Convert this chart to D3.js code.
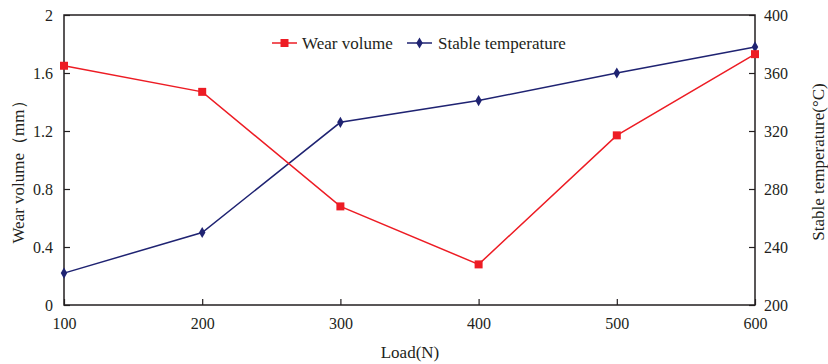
<!DOCTYPE html>
<html>
<head>
<meta charset="utf-8">
<script src="https://cdn.jsdelivr.net/npm/d3@7"></script>
<style>
  body { margin: 0; background: #fff; }
  svg { display: block; }
  text { font-family: "Liberation Serif", "Times New Roman", serif; fill: #231f20; }
</style>
</head>
<body>
<svg id="chart" width="828" height="364"></svg>
<script>
// Load (N) on the x axis
const loads = [100, 200, 300, 400, 500, 600];
// Wear volume (mm) — left axis
const wearVolume = [1.65, 1.47, 0.68, 0.28, 1.17, 1.73];
// Stable temperature (°C) — right axis
const stableTemp = [222, 250, 326, 341, 360, 378];

const xTicks = [100, 200, 300, 400, 500, 600];
const leftTicks = [0, 0.4, 0.8, 1.2, 1.6, 2];
const rightTicks = [200, 240, 280, 320, 360, 400];

const svg = d3.select("#chart");
const m = { left: 64, right: 755, top: 15, bottom: 305 };

const x = d3.scaleLinear().domain([100, 600]).range([m.left, m.right]);
const yL = d3.scaleLinear().domain([0, 2]).range([m.bottom, m.top]);
const yR = d3.scaleLinear().domain([200, 400]).range([m.bottom, m.top]);

const axisColor = "#231f20";
const red = "#ed1c24";
const navy = "#1f2372";

// frame
svg.append("rect")
  .attr("x", m.left).attr("y", m.top)
  .attr("width", m.right - m.left).attr("height", m.bottom - m.top)
  .attr("fill", "none").attr("stroke", axisColor).attr("stroke-width", 1.5);

function styleAxis(g) {
  g.select(".domain").remove();
  g.selectAll(".tick line").attr("stroke", axisColor).attr("stroke-width", 1.2);
  g.selectAll(".tick text")
    .style("font-family", "'Liberation Serif', serif")
    .style("font-size", "16px").attr("fill", axisColor);
}

svg.append("g")
  .attr("transform", `translate(0,${m.bottom})`)
  .call(d3.axisBottom(x).tickValues(xTicks).tickSize(-6).tickPadding(13).tickFormat(d3.format("d")))
  .call(styleAxis);

svg.append("g")
  .attr("transform", `translate(${m.left},0)`)
  .call(d3.axisLeft(yL).tickValues(leftTicks).tickSize(-6).tickPadding(11).tickFormat(d => d === 0 || d === 2 ? d3.format("d")(d) : d3.format(".1f")(d)))
  .call(styleAxis);

svg.append("g")
  .attr("transform", `translate(${m.right},0)`)
  .call(d3.axisRight(yR).tickValues(rightTicks).tickSize(-6).tickPadding(9).tickFormat(d3.format("d")))
  .call(styleAxis);

// axis titles
svg.append("text")
  .attr("x", 410).attr("y", 358)
  .attr("text-anchor", "middle").style("font-size", "17px")
  .text("Load(N)");

svg.append("text")
  .attr("transform", "translate(24,168) rotate(-90)")
  .attr("text-anchor", "middle").style("font-size", "17px")
  .text("Wear volume（mm）");

svg.append("text")
  .attr("transform", "translate(824,162) rotate(-90)")
  .attr("text-anchor", "middle").style("font-size", "17px")
  .text("Stable temperature(°C)");

// series
const wearData = loads.map((l, i) => ({ x: l, y: wearVolume[i] }));
const tempData = loads.map((l, i) => ({ x: l, y: stableTemp[i] }));

svg.append("path")
  .datum(tempData)
  .attr("fill", "none").attr("stroke", navy).attr("stroke-width", 1.5)
  .attr("d", d3.line().x(d => x(d.x)).y(d => yR(d.y)));

svg.append("path")
  .datum(wearData)
  .attr("fill", "none").attr("stroke", red).attr("stroke-width", 1.5)
  .attr("d", d3.line().x(d => x(d.x)).y(d => yL(d.y)));

const diamond = d3.symbol().type(d3.symbolDiamond).size(36);
const square = d3.symbol().type(d3.symbolSquare).size(64);

svg.append("g").selectAll("path")
  .data(tempData).join("path")
  .attr("transform", d => `translate(${x(d.x)},${yR(d.y)})`)
  .attr("d", diamond).attr("fill", navy);

svg.append("g").selectAll("path")
  .data(wearData).join("path")
  .attr("transform", d => `translate(${x(d.x)},${yL(d.y)})`)
  .attr("d", square).attr("fill", red);

// legend
const leg = svg.append("g");
leg.append("line").attr("x1", 272).attr("x2", 297).attr("y1", 43).attr("y2", 43)
  .attr("stroke", red).attr("stroke-width", 1.5);
leg.append("path").attr("transform", "translate(284.5,43)").attr("d", square).attr("fill", red);
leg.append("text").attr("x", 302).attr("y", 49).style("font-size", "17px").text("Wear volume");

leg.append("line").attr("x1", 407).attr("x2", 432).attr("y1", 43).attr("y2", 43)
  .attr("stroke", navy).attr("stroke-width", 1.5);
leg.append("path").attr("transform", "translate(419.5,43)").attr("d", diamond).attr("fill", navy);
leg.append("text").attr("x", 438).attr("y", 49).style("font-size", "17px").text("Stable temperature");
</script>
</body>
</html>
